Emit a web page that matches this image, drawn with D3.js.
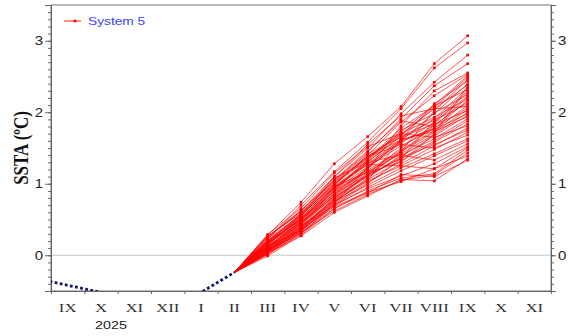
<!DOCTYPE html>
<html>
<head>
<meta charset="utf-8">
<script src="https://cdn.jsdelivr.net/npm/d3@7"></script>
<style>
  body { margin: 0; background: #fff; }
  svg { display: block; }
</style>
</head>
<body>
<div id="chart"></div>
<script>
// month labels along the x axis (Sep 2024 .. Nov 2025)
const months = ["IX", "X", "XI", "XII", "I", "II", "III", "IV", "V", "VI", "VII", "VIII", "IX", "X", "XI"];
const yearLabel = "2025";
const yTicks = [0, 1, 2, 3];

// observed anomalies, month index -1 (VIII) .. 5 (II)
const obsIndex = [-1, 0, 1, 2, 3, 4, 5];
const obsValues = [-0.32, -0.42, -0.52, -0.60, -0.63, -0.52, -0.24];

// forecast months III .. IX (index 6 .. 12), lines start from the last obs (II)
const fcIndex = [6, 7, 8, 9, 10, 11, 12];
const members = [
  [0.28, 0.74, 1.28, 1.66, 2.08, 2.68, 3.07],
  [0.22, 0.70, 1.17, 1.58, 2.05, 2.62, 2.97],
  [0.25, 0.62, 1.10, 1.50, 1.98, 2.42, 2.80],
  [0.18, 0.58, 1.05, 1.44, 1.91, 2.37, 2.68],
  [0.08, 0.44, 0.90, 1.20, 1.81, 2.30, 2.55],
  [0.15, 0.52, 0.98, 1.40, 1.86, 2.23, 2.53],
  [0.20, 0.55, 1.02, 1.36, 1.72, 2.10, 2.51],
  [0.12, 0.48, 0.92, 1.30, 1.68, 2.07, 2.49],
  [0.05, 0.36, 0.80, 1.12, 1.45, 2.02, 2.46],
  [0.10, 0.35, 0.75, 1.05, 1.62, 2.12, 2.44],
  [0.19, 0.50, 0.95, 1.32, 1.75, 1.98, 2.40],
  [0.14, 0.57, 1.00, 1.38, 1.69, 2.05, 2.38],
  [0.18, 0.50, 0.96, 1.16, 1.30, 1.70, 2.36],
  [0.21, 0.53, 0.97, 1.28, 1.62, 1.91, 2.34],
  [0.16, 0.47, 0.90, 1.34, 1.78, 2.09, 2.32],
  [0.06, 0.40, 0.70, 1.00, 1.35, 1.88, 2.30],
  [0.26, 0.63, 1.04, 1.42, 1.65, 1.84, 2.28],
  [0.11, 0.44, 0.87, 1.22, 1.60, 1.99, 2.25],
  [0.17, 0.51, 0.94, 1.27, 1.57, 1.86, 2.23],
  [0.20, 0.58, 1.06, 1.46, 1.88, 1.80, 2.21],
  [0.23, 0.56, 0.99, 1.35, 1.70, 1.93, 2.19],
  [0.13, 0.46, 0.91, 1.24, 1.53, 1.77, 2.17],
  [0.04, 0.36, 0.77, 1.12, 1.44, 1.82, 2.15],
  [0.18, 0.49, 0.93, 1.31, 1.66, 1.89, 2.12],
  [0.07, 0.41, 0.84, 1.19, 1.47, 1.74, 2.10],
  [0.15, 0.54, 1.10, 1.55, 1.95, 2.05, 2.08],
  [0.10, 0.43, 0.86, 1.21, 1.59, 1.78, 2.06],
  [0.20, 0.50, 0.89, 1.17, 1.45, 1.72, 2.04],
  [0.05, 0.37, 0.79, 1.14, 1.50, 1.83, 2.02],
  [0.12, 0.45, 0.83, 1.16, 1.42, 1.69, 2.00],
  [0.27, 0.59, 1.03, 1.39, 1.61, 1.76, 1.98],
  [0.08, 0.39, 0.81, 1.10, 1.38, 1.67, 1.96],
  [0.02, 0.30, 0.72, 1.24, 1.62, 1.73, 1.94],
  [0.03, 0.33, 0.74, 1.08, 1.40, 1.63, 1.91],
  [0.17, 0.46, 0.86, 1.13, 1.35, 1.60, 1.88],
  [0.09, 0.40, 0.78, 1.06, 1.32, 1.58, 1.84],
  [0.29, 0.66, 1.15, 1.52, 1.70, 1.65, 1.81],
  [0.02, 0.35, 0.72, 1.02, 1.28, 1.53, 1.78],
  [0.13, 0.44, 0.82, 1.11, 1.36, 1.55, 1.75],
  [0.06, 0.38, 0.76, 1.04, 1.25, 1.48, 1.72],
  [0.14, 0.55, 1.00, 1.38, 1.55, 1.50, 1.68],
  [0.11, 0.41, 0.75, 0.98, 1.22, 1.42, 1.63],
  [0.01, 0.31, 0.69, 0.95, 1.18, 1.39, 1.60],
  [0.25, 0.61, 1.08, 1.30, 1.40, 1.33, 1.56],
  [0.07, 0.34, 0.71, 0.93, 1.11, 1.28, 1.52],
  [0.10, 0.50, 0.95, 1.27, 1.25, 1.21, 1.50],
  [-0.01, 0.28, 0.65, 0.90, 1.08, 1.14, 1.47],
  [0.05, 0.32, 0.62, 0.85, 1.05, 1.12, 1.43],
  [0.12, 0.36, 0.68, 0.88, 1.03, 1.21, 1.39],
  [0.03, 0.27, 0.60, 0.83, 1.06, 1.04, 1.35],
  [0.08, 0.30, 0.66, 0.87, 1.13, 1.10, 1.33]
];

const W = 569, H = 336;
const m = {left: 51, right: 18, top: 5, bottom: 45};
const sx = 1.25; // text in the original is stretched horizontally

const svg = d3.select("#chart").append("svg")
  .attr("width", W).attr("height", H);

const x = d3.scaleLinear().domain([0, months.length]).range([m.left, W - m.right]);
const y = d3.scaleLinear().domain([-0.5, 3.5]).range([H - m.bottom, m.top]);

svg.append("defs").append("clipPath").attr("id", "plot")
  .append("rect")
  .attr("x", x(0)).attr("y", y(3.5))
  .attr("width", x(months.length) - x(0)).attr("height", y(-0.5) - y(3.5));

// zero line
svg.append("line")
  .attr("x1", x(0)).attr("x2", x(months.length))
  .attr("y1", y(0)).attr("y2", y(0))
  .attr("stroke", "#c8c8c8").attr("stroke-width", 1);

// frame
svg.append("rect")
  .attr("x", x(0)).attr("y", y(3.5))
  .attr("width", x(months.length) - x(0)).attr("height", y(-0.5) - y(3.5))
  .attr("fill", "none").attr("stroke", "#777").attr("stroke-width", 1);

const minor = d3.range(-5, 36).map(d => d / 10);

function styleAxis(g) {
  g.select(".domain").attr("stroke", "#666");
  g.selectAll(".tick line").attr("stroke", "#666");
}

// left axis
svg.append("g").attr("transform", `translate(${x(0)},0)`)
  .call(d3.axisLeft(y).tickValues(minor).tickSize(3).tickFormat(""))
  .call(styleAxis);
const yl = svg.append("g").attr("transform", `translate(${x(0)},0)`)
  .call(d3.axisLeft(y).tickValues(yTicks).tickSize(6).tickFormat(d3.format("d")))
  .call(styleAxis);
yl.selectAll(".tick text")
  .attr("x", null)
  .attr("transform", `translate(-8,0) scale(${sx},1)`)
  .attr("font-family", "Liberation Sans, Arial, sans-serif")
  .attr("font-size", 12).attr("fill", "#222");

// right axis
svg.append("g").attr("transform", `translate(${x(months.length)},0)`)
  .call(d3.axisRight(y).tickValues(minor).tickSize(3).tickFormat(""))
  .call(styleAxis);
const yr = svg.append("g").attr("transform", `translate(${x(months.length)},0)`)
  .call(d3.axisRight(y).tickValues(yTicks).tickSize(5).tickFormat(d3.format("d")))
  .call(styleAxis);
yr.selectAll(".tick text")
  .attr("x", null)
  .attr("transform", `translate(7,0) scale(${sx},1)`)
  .attr("font-family", "Liberation Sans, Arial, sans-serif")
  .attr("font-size", 12).attr("fill", "#222");

// bottom axis: ticks on month boundaries, labels in the middle
svg.append("g").attr("transform", `translate(0,${y(-0.5)})`)
  .call(d3.axisBottom(x).tickValues(d3.range(0, months.length + 1)).tickSize(3).tickFormat(""))
  .call(styleAxis);

svg.append("g").selectAll("text").data(months).join("text")
  .attr("transform", (d, i) => `translate(${x(i + 0.5)},${y(-0.5) + 21}) scale(${sx},1)`)
  .attr("text-anchor", "middle")
  .attr("font-family", "Liberation Serif, Times New Roman, serif")
  .attr("font-size", 13.5).attr("fill", "#333")
  .text(d => d);

svg.append("text")
  .attr("transform", `translate(${x(1.8)},${y(-0.5) + 38}) scale(${sx},1)`)
  .attr("text-anchor", "middle")
  .attr("font-family", "Liberation Sans, Arial, sans-serif")
  .attr("font-size", 11.5).attr("fill", "#222")
  .text(yearLabel);

// y label
svg.append("text")
  .attr("transform", `translate(28,${(y(3.5) + y(-0.5)) / 2}) rotate(-90) scale(1,${sx})`)
  .attr("text-anchor", "middle")
  .attr("font-family", "Liberation Serif, Times New Roman, serif")
  .attr("font-weight", "bold")
  .attr("font-size", 17).attr("fill", "#111")
  .text("SSTA (ºC)");

const plot = svg.append("g").attr("clip-path", "url(#plot)");

// ensemble members
const line = d3.line().x(d => x(d[0] + 0.5)).y(d => y(d[1]));
const start = [obsIndex[obsIndex.length - 1], obsValues[obsValues.length - 1]];
const memberPts = members.map(vals => [start].concat(fcIndex.map((k, i) => [k, vals[i]])));

plot.append("g").selectAll("path").data(memberPts).join("path")
  .attr("d", line)
  .attr("fill", "none")
  .attr("stroke", "#ff0000")
  .attr("stroke-opacity", 0.75)
  .attr("stroke-width", 0.9);

plot.append("g").selectAll("rect")
  .data(memberPts.flatMap(p => p.slice(1)))
  .join("rect")
  .attr("x", d => x(d[0] + 0.5) - 1.3)
  .attr("y", d => y(d[1]) - 1.3)
  .attr("width", 2.6).attr("height", 2.6)
  .attr("fill", "#ff0000");

// observations
plot.append("path")
  .datum(obsIndex.map((k, i) => [k, obsValues[i]]))
  .attr("d", line)
  .attr("fill", "none")
  .attr("stroke", "#14146e")
  .attr("stroke-width", 2.8)
  .attr("stroke-dasharray", "2.8,2.4");

// legend
const lg = svg.append("g");
lg.append("line")
  .attr("x1", 64).attr("x2", 81).attr("y1", 21).attr("y2", 21)
  .attr("stroke", "#ff0000").attr("stroke-width", 0.9);
lg.append("rect")
  .attr("x", 73.7).attr("y", 19.7).attr("width", 2.6).attr("height", 2.6)
  .attr("fill", "#ff0000");
lg.append("text")
  .attr("transform", `translate(88,25) scale(${sx},1)`)
  .attr("font-family", "Liberation Sans, Arial, sans-serif")
  .attr("font-size", 11).attr("fill", "#3c3cff")
  .text("System 5");
</script>
</body>
</html>
